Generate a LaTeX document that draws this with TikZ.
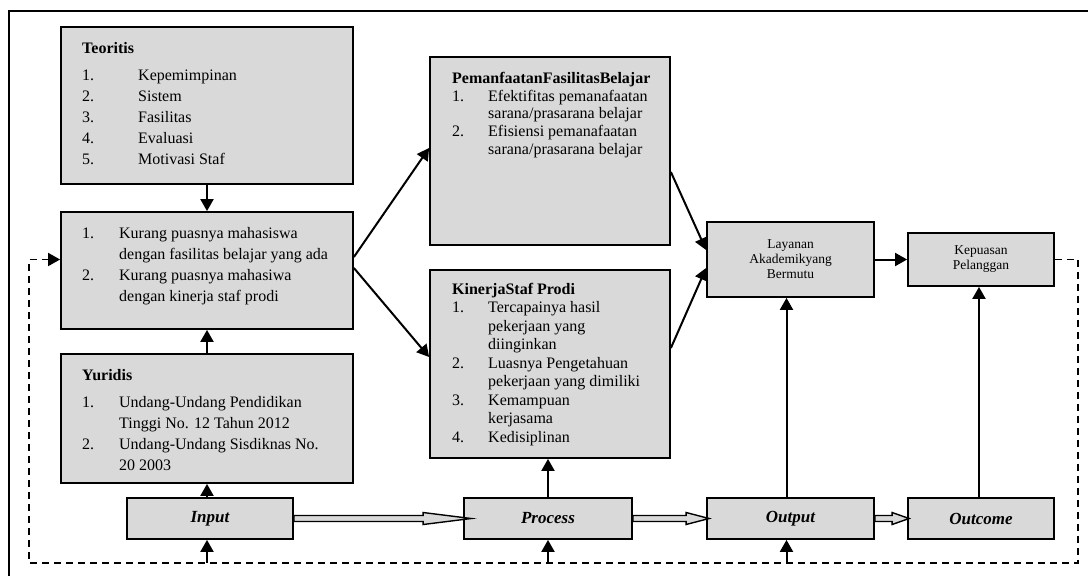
\documentclass[tikz,border=0pt]{standalone}
\usepackage{fontspec}
\setmainfont{Liberation Serif}
\usetikzlibrary{arrows.meta,calc}
\definecolor{boxgray}{HTML}{D9D9D9}
\begin{document}
\begin{tikzpicture}[x=1pt,y=-1pt,
  box/.style={draw, line width=1.8pt, fill=boxgray, inner sep=0pt},
  txt/.style={anchor=north west, inner sep=0pt, align=left, font=\fontsize{16}{21}\selectfont},
  arr/.style={line width=2pt, -{Triangle[length=12pt,width=13pt]}},
  dsh/.style={line width=1.8pt, dash pattern=on 7pt off 5pt},
  holl/.style={draw, line width=1.4pt, fill=boxgray, line join=miter},
  small/.style={font=\fontsize{13.5}{15}\selectfont, align=center},
  io/.style={font=\fontsize{17}{20}\selectfont\bfseries\itshape}]
\useasboundingbox (0,0) rectangle (1088,576);
\draw[line width=2pt] (9,576) -- (9,11) -- (1088,11);

% boxes
\node[box, minimum width=292pt, minimum height=157pt] (teo) at (207,105.5) {};
\node[box, minimum width=292pt, minimum height=117pt] (mas) at (207,270.5) {};
\node[box, minimum width=292pt, minimum height=129pt] (yur) at (207,418.5) {};
\node[box, minimum width=240pt, minimum height=188pt] (pem) at (550,151) {};
\node[box, minimum width=240pt, minimum height=188pt] (kin) at (550,364) {};
\node[box, small, minimum width=167pt, minimum height=75pt] (lay) at (790.5,259.5) {Layanan\\Akademikyang\\Bermutu};
\node[box, small, minimum width=146pt, minimum height=53pt] (kep) at (981,259.5) {Kepuasan\\Pelanggan};
\node[box, io, minimum width=166pt, minimum height=41pt] (inp) at (210,518.5) {Input};
\node[box, io, minimum width=168pt, minimum height=41pt] (pro) at (548,518.5) {Process};
\node[box, io, minimum width=167pt, minimum height=41pt] (out) at (790.5,518.5) {Output};
\node[box, io, minimum width=146pt, minimum height=41pt] (ocm) at (981,518.5) {Outcome};

% box texts
\node[txt] (teot) at (82,41) {\rule{0pt}{12pt}\textbf{Teoritis}\\[6pt]
\makebox[56pt][l]{1.}Kepemimpinan\\
\makebox[56pt][l]{2.}Sistem\\
\makebox[56pt][l]{3.}Fasilitas\\
\makebox[56pt][l]{4.}Evaluasi\\
\makebox[56pt][l]{5.}Motivasi Staf};
\node[txt] (mast) at (82,226) {\rule{0pt}{12pt}\makebox[37pt][l]{1.}Kurang puasnya mahasiswa\\
\hspace*{37pt}dengan fasilitas belajar yang ada\\
\makebox[37pt][l]{2.}Kurang puasnya mahasiwa\\
\hspace*{37pt}dengan kinerja staf prodi};
\node[txt] (yurt) at (82,368) {\rule{0pt}{12pt}\textbf{Yuridis}\\[6pt]
\makebox[37pt][l]{1.}Undang-Undang Pendidikan\\
\hspace*{37pt}Tinggi No. 12 Tahun 2012\\
\makebox[37pt][l]{2.}Undang-Undang Sisdiknas No.\\
\hspace*{37pt}20 2003};
\node[txt, font=\fontsize{16}{17.8}\selectfont] (pemt) at (452,71) {\rule{0pt}{12pt}\textbf{PemanfaatanFasilitasBelajar}\\
\makebox[36pt][l]{1.}Efektifitas pemanafaatan\\
\hspace*{36pt}sarana/prasarana belajar\\
\makebox[36pt][l]{2.}Efisiensi pemanafaatan\\
\hspace*{36pt}sarana/prasarana belajar};
\node[txt, font=\fontsize{16}{18.5}\selectfont] (kint) at (452,282) {\rule{0pt}{12pt}\textbf{KinerjaStaf Prodi}\\
\makebox[36pt][l]{1.}Tercapainya hasil\\
\hspace*{36pt}pekerjaan yang\\
\hspace*{36pt}diinginkan\\
\makebox[36pt][l]{2.}Luasnya Pengetahuan\\
\hspace*{36pt}pekerjaan yang dimiliki\\
\makebox[36pt][l]{3.}Kemampuan\\
\hspace*{36pt}kerjasama\\
\makebox[36pt][l]{4.}Kedisiplinan};

% solid connectors
\draw[arr] (teo.south) -- (mas.north);
\draw[arr] (yur.north) -- (mas.south);
\draw[arr] (yur.south |- inp.north) -- (yur.south);
\draw[arr] ($(mas.east)+(0,-13.5)$) -- ($(pem.west)+(0,-3)$);
\draw[arr] ($(mas.east)+(0,-2.5)$) -- ($(kin.west)+(0,-7)$);
\draw[arr] ($(pem.east)+(0,21)$) -- ($(lay.west)+(0,-9.5)$);
\draw[arr] ($(kin.east)+(0,-16)$) -- ($(lay.west)+(0,8.5)$);
\draw[arr] (lay.east) -- (kep.west);
\draw[arr] (pro.north) -- (pro.north |- kin.south);
\draw[arr] ($(out.north)+(-4,0)$) -- ($(lay.south)+(-4,0)$);
\draw[arr] ($(ocm.north)+(-2,0)$) -- ($(kep.south)+(-2,0)$);

% hollow double arrows
\draw[holl] let \p1=(inp.east), \p2=(pro.west) in
  (\x1,\y1+3pt) -- (\x2-40pt,\y1+3pt) -- (\x2-40pt,\y1+6pt) -- (\x2+8pt,\y1)
  -- (\x2-40pt,\y1-6pt) -- (\x2-40pt,\y1-3pt) -- (\x1,\y1-3pt) -- cycle;
\draw[holl] let \p1=(pro.east), \p2=(out.west) in
  (\x1,\y1+3pt) -- (\x2-20pt,\y1+3pt) -- (\x2-20pt,\y1+6pt) -- (\x2+3pt,\y1)
  -- (\x2-20pt,\y1-6pt) -- (\x2-20pt,\y1-3pt) -- (\x1,\y1-3pt) -- cycle;
\draw[holl] let \p1=(out.east), \p2=(ocm.west) in
  (\x1,\y1+3pt) -- (\x2-15pt,\y1+3pt) -- (\x2-15pt,\y1+6pt) -- (\x2+2pt,\y1)
  -- (\x2-15pt,\y1-6pt) -- (\x2-15pt,\y1-3pt) -- (\x1,\y1-3pt) -- cycle;

% dashed feedback loop
\coordinate (dr) at (1078,563);
\coordinate (dl) at (29,563);
\draw[dsh, -{Triangle[length=12pt,width=13pt]}] (kep.east) -- (kep.east -| dr) -- (dr) -- (dl) -- (dl |- kep.east) -- (kep.east -| mas.west);
\draw[arr] (yur.south |- dl) -- (yur.south |- inp.south);
\draw[arr] (pro.south |- dl) -- (pro.south);
\draw[arr] ($(out.south |- dl)+(-4,0)$) -- ($(out.south)+(-4,0)$);
\end{tikzpicture}
\end{document}
